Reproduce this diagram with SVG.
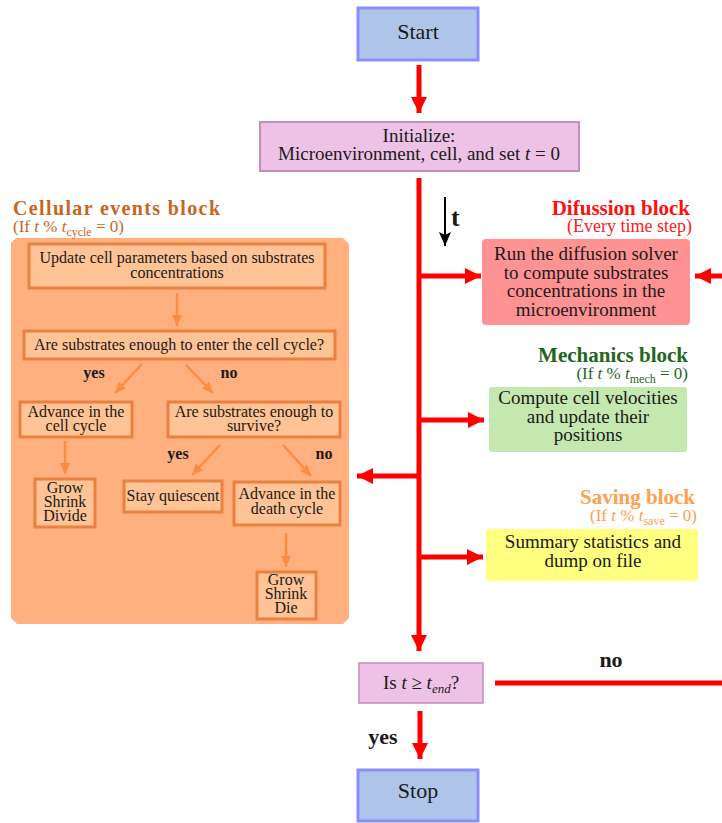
<svg xmlns="http://www.w3.org/2000/svg" width="722" height="823" viewBox="0 0 722 823" font-family="Liberation Serif, DejaVu Serif, serif">
<style>
text{fill:#1a1a1a}
.m{font-size:19px;text-anchor:middle}
.s{font-size:16px;text-anchor:middle}
.b{font-weight:bold}
.i{font-style:italic}
.red{stroke:#ff0000;stroke-width:5;fill:none}
.org{stroke:#fa8c46;stroke-width:2.5;fill:none}
.ib{fill:#ffc396;stroke:#ea8142;stroke-width:3}
</style>
<defs>
<marker id="ar" markerUnits="userSpaceOnUse" markerWidth="18" markerHeight="16" refX="16" refY="8" orient="auto">
<path d="M0,0 L16,8 L0,16 Z" fill="#ff0000"/>
</marker>
<marker id="ao" markerUnits="userSpaceOnUse" markerWidth="12" markerHeight="10" refX="11" refY="5" orient="auto">
<path d="M0,0 L11,5 L0,10 Z" fill="#fa8c46"/>
</marker>
<marker id="ak" markerUnits="userSpaceOnUse" markerWidth="12" markerHeight="12" refX="14" refY="6" orient="auto">
<path d="M0,0 L14,6 L0,12 L3,6 Z" fill="#000"/>
</marker>
</defs>

<g id="cellular-panel">
<path d="M16,238 L343,238 L349,244 L349,618 L343,624 L17,624 L11,618 L11,243 Z" fill="#ffb07e"/>
<text x="13" y="215" font-size="20" font-weight="bold" style="fill:#c8661f" textLength="207" lengthAdjust="spacing">Cellular events block</text>
<text x="13" y="232" font-size="17" style="fill:#c8661f">(If <tspan class="i">t</tspan> % <tspan class="i">t</tspan><tspan font-size="12" dy="4">cycle</tspan><tspan dy="-4"> = 0)</tspan></text>
</g>

<g id="start">
<rect x="358" y="8" width="120" height="52" fill="#aec5e9" stroke="#8c8cff" stroke-width="3"/>
<text x="418" y="39" font-size="22" text-anchor="middle">Start</text>
</g>

<g id="init">
<rect x="260" y="122" width="319" height="49" fill="#eec2e6" stroke="#c190b8" stroke-width="2"/>
<text class="m" x="419" y="142">Initialize:</text>
<text class="m" x="419" y="160">Microenvironment, cell, and set <tspan class="i">t</tspan> = 0</text>
</g>

<g id="time-label">
<text x="451" y="226" font-size="26" font-weight="bold">t</text>
</g>

<g id="diffusion">
<text x="690" y="215" font-size="21" font-weight="bold" text-anchor="end" style="fill:#ff1010">Difussion block</text>
<text x="692" y="232" font-size="18" text-anchor="end" style="fill:#ff2020">(Every time step)</text>
<rect x="482" y="239" width="208" height="86" rx="4" fill="#ff9292"/>
<text class="m" x="586" y="260">Run the diffusion solver</text>
<text class="m" x="586" y="279">to compute substrates</text>
<text class="m" x="586" y="297">concentrations in the</text>
<text class="m" x="586" y="316">microenvironment</text>
</g>

<g id="mechanics">
<text x="688" y="362" font-size="21" font-weight="bold" text-anchor="end" style="fill:#1f661f">Mechanics block</text>
<text x="688" y="379" font-size="17" text-anchor="end" style="fill:#1f661f">(If <tspan class="i">t</tspan> % <tspan class="i">t</tspan><tspan font-size="12" dy="4">mech</tspan><tspan dy="-4"> = 0)</tspan></text>
<rect x="489" y="387" width="198" height="65" rx="3" fill="#c5e8b1"/>
<text class="m" x="588" y="404">Compute cell velocities</text>
<text class="m" x="588" y="423">and update their</text>
<text class="m" x="588" y="441">positions</text>
</g>

<g id="saving">
<text x="695" y="504" font-size="21" font-weight="bold" text-anchor="end" style="fill:#ffa050">Saving block</text>
<text x="697" y="521" font-size="17" text-anchor="end" style="fill:#ffa050">(If <tspan class="i">t</tspan> % <tspan class="i">t</tspan><tspan font-size="12" dy="4">save</tspan><tspan dy="-4"> = 0)</tspan></text>
<rect x="486" y="529" width="212" height="52" rx="3" fill="#ffff80"/>
<text class="m" x="593" y="548">Summary statistics and</text>
<text class="m" x="593" y="567">dump on file</text>
</g>

<g id="check-end">
<rect x="359" y="663" width="124" height="40" fill="#eec2e6" stroke="#c190b8" stroke-width="1.5"/>
<text class="m" x="421" y="689">Is <tspan class="i">t</tspan> ≥ <tspan class="i">t</tspan><tspan class="i" font-size="13" dy="4">end</tspan><tspan dy="-4">?</tspan></text>
</g>

<g id="stop">
<rect x="358" y="770" width="120" height="51" fill="#aec5e9" stroke="#8c8cff" stroke-width="3"/>
<text x="418" y="798" font-size="22" text-anchor="middle">Stop</text>
</g>

<g id="update">
<rect class="ib" x="29" y="244" width="296" height="44"/>
<text class="s" x="177" y="263">Update cell parameters based on substrates</text>
<text class="s" x="177" y="278">concentrations</text>
</g>
<g id="enter-cycle">
<rect class="ib" x="24" y="331" width="311" height="28"/>
<text class="s" x="179" y="350">Are substrates enough to enter the cell cycle?</text>
</g>
<g id="advance-cycle">
<rect class="ib" x="20" y="402" width="112" height="35"/>
<text class="s" x="76" y="417">Advance in the</text>
<text class="s" x="76" y="431">cell cycle</text>
</g>
<g id="survive">
<rect class="ib" x="168" y="402" width="172" height="35"/>
<text class="s" x="254" y="417">Are substrates enough to</text>
<text class="s" x="254" y="431">survive?</text>
</g>
<g id="grow-divide">
<rect class="ib" x="35" y="479" width="60" height="48"/>
<text class="s" x="65" y="493">Grow</text>
<text class="s" x="65" y="507">Shrink</text>
<text class="s" x="65" y="521">Divide</text>
</g>
<g id="quiescent">
<rect class="ib" x="124" y="481" width="98" height="31"/>
<text class="s" x="173" y="501">Stay quiescent</text>
</g>
<g id="death-cycle">
<rect class="ib" x="234" y="482" width="106" height="43"/>
<text class="s" x="287" y="499">Advance in the</text>
<text class="s" x="287" y="514">death cycle</text>
</g>
<g id="grow-die">
<rect class="ib" x="257" y="572" width="59" height="47"/>
<text class="s" x="286" y="585">Grow</text>
<text class="s" x="286" y="599">Shrink</text>
<text class="s" x="286" y="613">Die</text>
</g>

<g id="connectors">
<line class="red" x1="419" y1="65" x2="419" y2="113" marker-end="url(#ar)"/>
<line class="red" x1="419" y1="178" x2="419" y2="651" marker-end="url(#ar)"/>
<line class="red" x1="419" y1="276" x2="481" y2="276" marker-end="url(#ar)"/>
<line class="red" x1="722" y1="276" x2="695" y2="276" marker-end="url(#ar)"/>
<line class="red" x1="419" y1="420" x2="484" y2="420" marker-end="url(#ar)"/>
<line class="red" x1="419" y1="476" x2="357" y2="476" marker-end="url(#ar)"/>
<line class="red" x1="419" y1="557" x2="483" y2="557" marker-end="url(#ar)"/>
<line class="red" x1="420" y1="711" x2="420" y2="759" marker-end="url(#ar)"/>
<line class="red" x1="495" y1="683" x2="722" y2="683"/>
<line x1="445" y1="197" x2="445" y2="246" stroke="#000" stroke-width="2" marker-end="url(#ak)"/>
<text x="611" y="667" font-size="22" font-weight="bold" text-anchor="middle">no</text>
<text x="383" y="744" font-size="22" font-weight="bold" text-anchor="middle">yes</text>

<line class="org" x1="177" y1="293" x2="177" y2="326" marker-end="url(#ao)"/>
<line class="org" x1="142" y1="364" x2="115" y2="393" marker-end="url(#ao)"/>
<line class="org" x1="186" y1="365" x2="213" y2="393" marker-end="url(#ao)"/>
<line class="org" x1="65" y1="441" x2="65" y2="474" marker-end="url(#ao)"/>
<line class="org" x1="220" y1="445" x2="192" y2="475" marker-end="url(#ao)"/>
<line class="org" x1="283" y1="445" x2="311" y2="476" marker-end="url(#ao)"/>
<line class="org" x1="286" y1="533" x2="286" y2="567" marker-end="url(#ao)"/>
<text x="94" y="378" font-size="16" class="b" text-anchor="middle">yes</text>
<text x="229" y="378" font-size="16" class="b" text-anchor="middle">no</text>
<text x="178" y="459" font-size="16" class="b" text-anchor="middle">yes</text>
<text x="324" y="459" font-size="16" class="b" text-anchor="middle">no</text>
</g>
</svg>
